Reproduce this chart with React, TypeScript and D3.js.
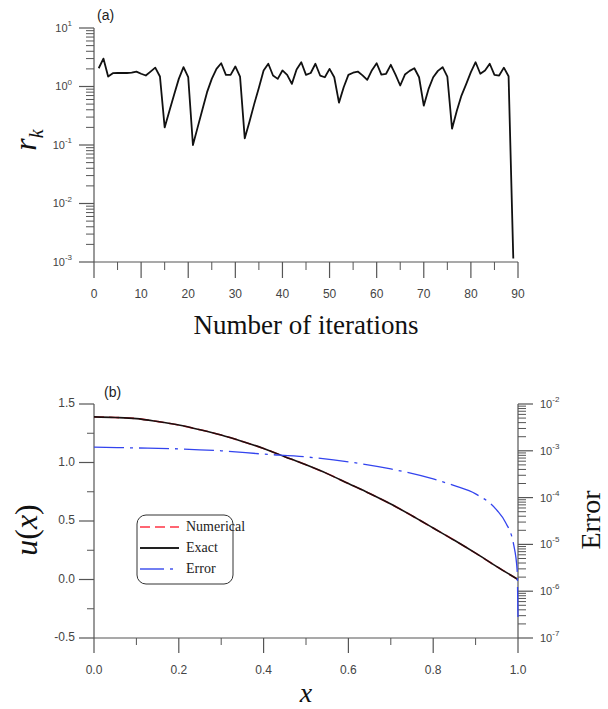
import React from "react";
import * as d3 from "d3";

// residual per iteration (iterations start at 1)
const residuals = [
  2.05, 3.0, 1.48, 1.69, 1.7, 1.7, 1.7, 1.72, 1.8, 1.65,
  1.54, 1.8, 2.1, 1.48, 0.2, 0.38, 0.72, 1.35, 2.14, 1.44,
  0.1, 0.2, 0.4, 0.8, 1.35, 2.0, 2.5, 1.58, 1.58, 2.2,
  1.48, 0.13, 0.25, 0.5, 0.95, 1.88, 2.45, 1.54, 1.35, 1.88,
  1.58, 1.11, 1.95, 2.6, 1.58, 1.7, 2.45, 1.54, 1.44, 2.0,
  1.44, 0.53, 0.97, 1.58, 1.72, 1.8, 1.55, 1.3, 1.9, 2.5,
  1.6, 1.65, 2.35, 1.6, 1.04, 1.6, 1.85, 2.05, 1.44, 0.47,
  0.9, 1.44, 1.85, 2.14, 1.48, 0.19, 0.38, 0.7, 1.1, 1.76,
  2.6, 1.65, 1.88, 2.45, 1.58, 1.54, 2.1, 1.5, 0.00115
];

const xGrid = [0, 0.05, 0.1, 0.15, 0.2, 0.25, 0.3, 0.35, 0.4, 0.45, 0.5,
  0.55, 0.6, 0.65, 0.7, 0.75, 0.8, 0.85, 0.9, 0.95, 1.0];
const uExact = [1.39, 1.385, 1.375, 1.35, 1.32, 1.28, 1.235, 1.18, 1.12, 1.05, 0.98,
  0.905, 0.82, 0.735, 0.645, 0.545, 0.44, 0.335, 0.225, 0.11, 0.0];
const uNumerical = uExact.slice();

const errX = [0, 0.1, 0.2, 0.3, 0.4, 0.5, 0.6, 0.7, 0.8, 0.85, 0.9, 0.95, 0.97, 0.99, 0.998, 1.0];
const errVals = [1.2e-3, 1.15e-3, 1.1e-3, 1.0e-3, 8.5e-4, 7.4e-4, 5.8e-4, 4.1e-4, 2.5e-4,
  1.8e-4, 1.2e-4, 5.4e-5, 3.0e-5, 9.6e-6, 2.8e-6, 2.4e-7];

const topXTicks = [0, 10, 20, 30, 40, 50, 60, 70, 80, 90];
const topYExp = [1, 0, -1, -2, -3];
const botXTicks = [0, 0.2, 0.4, 0.6, 0.8, 1.0];
const botYTicks = [1.5, 1.0, 0.5, 0.0, -0.5];
const errExp = [-2, -3, -4, -5, -6, -7];
const legendItems = ["Numerical", "Exact", "Error"];

const AX = "#555";
const LBL = "#444";
const SANS = "Liberation Sans, Arial, sans-serif";
const SERIF = "Liberation Serif, Times New Roman, serif";

function logMinors(lo: number, hi: number) {
  const out: number[] = [];
  for (let e = lo; e < hi; e++) {
    for (let m = 2; m <= 9; m++) out.push(m * Math.pow(10, e));
  }
  return out;
}

function Pow10({ x, y, e, anchor }: { x: number; y: number; e: number; anchor: string }) {
  return (
    <text x={x} y={y} fontFamily={SANS} fontSize={11} fill={LBL} textAnchor={anchor} dominantBaseline="middle">
      10<tspan fontSize={8} dy={-5}>{e}</tspan>
    </text>
  );
}

export default function App() {
  // top panel
  const x1 = d3.scaleLinear().domain([0, 90]).range([94, 518]);
  const y1 = d3.scaleLog().domain([1e-3, 10]).range([262, 28]);
  const line1 = d3.line<number>()
    .x((d, i) => x1(i + 1))
    .y(d => y1(d));

  // bottom panel
  const x2 = d3.scaleLinear().domain([0, 1]).range([94, 518]);
  const y2 = d3.scaleLinear().domain([-0.5, 1.5]).range([638, 404]);
  const yErr = d3.scaleLog().domain([1e-7, 1e-2]).range([638, 404]);
  const uLine = d3.line<number>()
    .x((d, i) => x2(xGrid[i]))
    .y(d => y2(d))
    .curve(d3.curveMonotoneX);
  const errLine = d3.line<number>()
    .x((d, i) => x2(errX[i]))
    .y(d => yErr(d))
    .curve(d3.curveMonotoneX);

  return (
    <svg width={608} height={709} style={{ position: "absolute", left: 0, top: 0, background: "#fff" }}>
      {/* ---------- (a) ---------- */}
      <text x={97} y={20} fontFamily={SANS} fontSize={14} fill="#222">(a)</text>
      <line x1={94} x2={94} y1={28} y2={262} stroke={AX} strokeWidth={1.2} />
      <line x1={94} x2={518} y1={262} y2={262} stroke={AX} strokeWidth={1.2} />
      {topYExp.map(e => (
        <g key={"ty" + e}>
          <line x1={79} x2={94} y1={y1(Math.pow(10, e))} y2={y1(Math.pow(10, e))} stroke={AX} strokeWidth={1.2} />
          <Pow10 x={72} y={y1(Math.pow(10, e)) + 1} e={e} anchor="end" />
        </g>
      ))}
      {logMinors(-3, 1).map((v, i) => (
        <line key={"tym" + i} x1={86} x2={94} y1={y1(v)} y2={y1(v)} stroke={AX} strokeWidth={1} />
      ))}
      {topXTicks.map(t => (
        <g key={"tx" + t}>
          <line x1={x1(t)} x2={x1(t)} y1={262} y2={278} stroke={AX} strokeWidth={1.2} />
          <text x={x1(t)} y={295} fontFamily={SANS} fontSize={12} fill={LBL} textAnchor="middle" dominantBaseline="middle">{t}</text>
        </g>
      ))}
      {d3.range(5, 90, 10).map(t => (
        <line key={"txm" + t} x1={x1(t)} x2={x1(t)} y1={262} y2={270} stroke={AX} strokeWidth={1} />
      ))}
      <path d={line1(residuals) || ""} fill="none" stroke="#111" strokeWidth={1.8} strokeLinejoin="round" />
      <text transform="translate(36,140) rotate(-90)" fontFamily={SERIF} fontStyle="italic" fontSize={32} fill="#111" textAnchor="middle">
        r<tspan fontSize={20} dy={7}>k</tspan>
      </text>
      <text x={306} y={334} fontFamily={SERIF} fontSize={27} fill="#111" textAnchor="middle">Number of iterations</text>

      {/* ---------- (b) ---------- */}
      <text x={104} y={397} fontFamily={SANS} fontSize={14} fill="#222">(b)</text>
      <line x1={94} x2={94} y1={404} y2={638} stroke={AX} strokeWidth={1.2} />
      <line x1={94} x2={518} y1={638} y2={638} stroke={AX} strokeWidth={1.2} />
      <line x1={518} x2={518} y1={404} y2={638} stroke={AX} strokeWidth={1.2} />
      {botYTicks.map(t => (
        <g key={"by" + t}>
          <line x1={79} x2={94} y1={y2(t)} y2={y2(t)} stroke={AX} strokeWidth={1.2} />
          <text x={75} y={y2(t)} fontFamily={SANS} fontSize={12} fill={LBL} textAnchor="end" dominantBaseline="middle">{t.toFixed(1)}</text>
        </g>
      ))}
      {[1.25, 0.75, 0.25, -0.25].map(t => (
        <line key={"bym" + t} x1={87} x2={94} y1={y2(t)} y2={y2(t)} stroke={AX} strokeWidth={1} />
      ))}
      {botXTicks.map(t => (
        <g key={"bx" + t}>
          <line x1={x2(t)} x2={x2(t)} y1={638} y2={653} stroke={AX} strokeWidth={1.2} />
          <text x={x2(t)} y={671} fontFamily={SANS} fontSize={12} fill={LBL} textAnchor="middle" dominantBaseline="middle">{t.toFixed(1)}</text>
        </g>
      ))}
      {[0.1, 0.3, 0.5, 0.7, 0.9].map(t => (
        <line key={"bxm" + t} x1={x2(t)} x2={x2(t)} y1={638} y2={645} stroke={AX} strokeWidth={1} />
      ))}
      {errExp.map(e => (
        <g key={"ey" + e}>
          <line x1={518} x2={533} y1={yErr(Math.pow(10, e))} y2={yErr(Math.pow(10, e))} stroke={AX} strokeWidth={1.2} />
          <Pow10 x={540} y={yErr(Math.pow(10, e)) + 1} e={e} anchor="start" />
        </g>
      ))}
      {logMinors(-7, -2).map((v, i) => (
        <line key={"eym" + i} x1={518} x2={526} y1={yErr(v)} y2={yErr(v)} stroke={AX} strokeWidth={1} />
      ))}

      <path d={uLine(uNumerical) || ""} fill="none" stroke="#ff3344" strokeWidth={1.6} strokeDasharray="10,5" />
      <path d={uLine(uExact) || ""} fill="none" stroke="#1a1010" strokeWidth={1.6} />
      <path d={errLine(errVals) || ""} fill="none" stroke="#3344ee" strokeWidth={1.3} strokeDasharray="30,6,3,6" />

      {/* legend */}
      <rect x={137} y={515} width={96} height={69} rx={9} fill="#fff" stroke="#333" strokeWidth={1} />
      {legendItems.map((name, i) => (
        <g key={name}>
          <line x1={140} x2={179} y1={527 + i * 21} y2={527 + i * 21}
            stroke={i === 0 ? "#ff3344" : i === 1 ? "#222" : "#4455ee"}
            strokeWidth={i === 1 ? 1.8 : 1.4}
            strokeDasharray={i === 0 ? "10,5" : i === 2 ? "24,6,3,6" : undefined} />
          <text x={186} y={528 + i * 21} fontFamily={SERIF} fontSize={14} fill="#222" dominantBaseline="middle">{name}</text>
        </g>
      ))}

      <text transform="translate(37,530) rotate(-90)" fontFamily={SERIF} fontSize={32} fill="#111" textAnchor="middle">
        <tspan fontStyle="italic">u</tspan>(<tspan fontStyle="italic">x</tspan>)
      </text>
      <text transform="translate(600,520) rotate(-90)" fontFamily={SERIF} fontSize={28} fill="#111" textAnchor="middle">Error</text>
      <text x={306} y={702} fontFamily={SERIF} fontStyle="italic" fontSize={28} fill="#111" textAnchor="middle">x</text>
    </svg>
  );
}
